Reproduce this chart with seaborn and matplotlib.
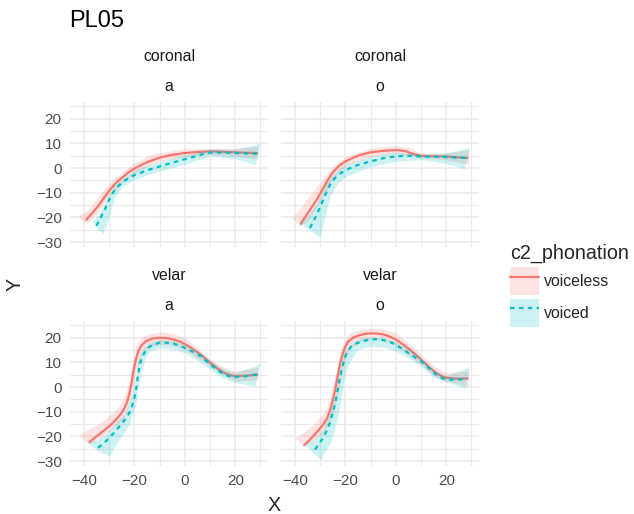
import matplotlib
matplotlib.use("Agg")
import matplotlib.pyplot as plt
import seaborn as sns
from matplotlib.patches import Patch
from matplotlib.lines import Line2D

# ---------------- data ----------------
series_names = ["voiceless", "voiced"]
legend_title = "c2_phonation"
row_labels = ["coronal", "velar"]
col_labels = ["a", "o"]
x_ticks = [-40, -20, 0, 20]
y_ticks = [-30, -20, -10, 0, 10, 20]
title_text = "PL05"

# coronal / a
cor_a_vl_x = [-39.1, -36.8, -34.5, -32.2, -29.9, -27.6, -25.3, -22.6, -19.9, -16.5, -13.4, -9.9, -5, 0, 5, 10, 15.5, 20, 24, 28.7]
cor_a_vl_y = [-20.9, -18.3, -15.5, -12.2, -9.0, -6.3, -4.2, -1.9, -0.1, 1.7, 3.0, 4.3, 5.4, 6.1, 6.5, 6.8, 6.6, 6.4, 6.2, 6.1]
cor_a_vl_rx = [-42, -39, -35, -30, -25, -20, -15, -10, 0, 10, 20, 29]
cor_a_vl_lo = [-20.0, -22.6, -18.5, -11.3, -6.2, -2.0, 0.8, 2.8, 4.6, 5.6, 4.8, 3.5]
cor_a_vl_hi = [-19.3, -17.4, -12.4, -6.0, -1.6, 2.2, 4.8, 6.3, 7.8, 8.0, 8.0, 8.8]
cor_a_vd_x = [-35.1, -33.5, -31.8, -30.5, -29.2, -27.3, -25.3, -22.6, -19.9, -15, -9.9, -5, 0, 5, 7.5, 10, 15, 20, 28.7]
cor_a_vd_y = [-23.4, -20.2, -16.9, -13.8, -11.0, -8.2, -6.2, -4.2, -2.8, -0.9, 0.7, 2.2, 3.6, 5.0, 5.8, 6.3, 6.3, 6.1, 5.8]
cor_a_vd_rx = [-36.5, -34.5, -32.5, -30, -28, -25, -20, -15, -10, 0, 10, 20, 28, 29.7]
cor_a_vd_lo = [-22.0, -24.8, -26.6, -19.6, -12.0, -7.6, -4.7, -2.8, -1.2, 1.6, 5.0, 3.8, 1.6, 9.6]
cor_a_vd_hi = [-21.5, -19.0, -15.5, -11.0, -7.0, -4.6, -0.8, 1.0, 2.6, 5.4, 7.6, 7.8, 9.4, 10.1]

# coronal / o
cor_o_vl_x = [-37.8, -35.9, -34.1, -31.4, -28.8, -26.8, -24.9, -22.5, -20, -17, -14.3, -10, -5, 0, 2, 4.1, 6, 8, 10, 15, 20, 24, 28.4]
cor_o_vl_y = [-22.6, -19.7, -16.9, -12.8, -8.1, -4.4, -1.6, 1.0, 2.7, 4.2, 5.3, 6.4, 7.0, 7.3, 7.2, 6.8, 6.0, 5.4, 5.0, 4.8, 4.7, 4.4, 4.1]
cor_o_vl_rx = [-41, -38, -35, -30, -25, -20, -10, 0, 5, 10, 20, 29]
cor_o_vl_lo = [-20.2, -23.2, -21.5, -13.5, -4.5, 1.0, 4.6, 6.0, 5.2, 4.0, 3.4, 1.5]
cor_o_vl_hi = [-19.6, -16.5, -12.0, -5.8, 0.8, 4.7, 8.1, 9.1, 8.3, 6.0, 6.0, 7.5]
cor_o_vd_x = [-34.1, -32.7, -31.4, -30.1, -28.8, -27.5, -26.2, -24.5, -22.9, -20, -15, -10, -5, 0, 5, 10, 20, 28.4]
cor_o_vd_y = [-24.3, -21.5, -18.9, -15.8, -12.8, -9.6, -6.8, -4.4, -2.8, -0.8, 1.3, 2.7, 4.0, 4.8, 5.0, 4.7, 4.5, 4.1]
cor_o_vd_rx = [-38, -35, -32.5, -30.1, -28, -26, -23, -20, -10, 0, 10, 20, 27.1, 29.1]
cor_o_vd_lo = [-22.3, -24.5, -26.5, -28.0, -19.0, -11.0, -6.0, -3.4, 0.7, 2.7, 3.4, 2.0, -0.3, 7.9]
cor_o_vd_hi = [-21.8, -19.5, -15.5, -12.0, -6.8, -3.8, -0.5, 1.4, 4.7, 6.4, 5.6, 6.2, 7.8, 8.4]

# velar / a
vel_a_vl_x = [-37.8, -33.2, -29.9, -26.6, -24.5, -23.2, -22.2, -21.3, -20.4, -19.5, -18.5, -17.2, -15.5, -12.8, -9.9, -6, -2, 2, 6.3, 10, 13, 15.5, 18, 20, 24, 28.7]
vel_a_vl_y = [-22.2, -18.5, -15.8, -12.4, -9.6, -6.8, -3.5, 1.0, 6.5, 11.0, 14.5, 16.9, 18.6, 19.7, 20.0, 19.7, 18.5, 16.3, 13.2, 9.9, 7.5, 5.8, 4.8, 4.5, 4.6, 5.1]
vel_a_vl_rx = [-41.7, -38, -33, -30, -26.6, -24.5, -23.3, -22, -20.7, -19.3, -17.4, -14.7, -9.9, -5, 0, 5, 10, 16.8, 20, 29]
vel_a_vl_lo = [-19.8, -23.2, -20.0, -17.8, -15.0, -12.6, -10.5, -6.4, -1.0, 6.5, 12.5, 15.9, 17.3, 17.0, 15.3, 11.8, 8.5, 4.0, 2.4, 3.0]
vel_a_vl_hi = [-19.2, -17.0, -14.2, -11.5, -8.4, -5.0, -1.6, 2.5, 10.5, 16.5, 19.8, 21.5, 22.4, 21.8, 20.0, 15.8, 11.2, 7.2, 6.5, 8.0]
vel_a_vd_x = [-34.5, -32, -29.9, -27.5, -25.3, -23.5, -22, -21, -20, -19.3, -18.7, -18, -17.2, -16, -14.7, -12.5, -9.9, -7, -4.2, 0, 3, 6.3, 10, 13, 15.5, 18, 20, 24, 28.7]
vel_a_vd_y = [-24.6, -22.6, -20.5, -17.8, -15.1, -12.8, -10.4, -7.8, -4.3, -0.5, 4.0, 8.5, 11.5, 14.0, 15.9, 17.3, 18.0, 18.0, 17.6, 15.9, 14.4, 12.6, 9.2, 6.8, 5.1, 4.3, 4.1, 4.4, 5.1]
vel_a_vd_rx = [-38.4, -35, -32, -29.9, -26.6, -23.9, -22, -20.7, -19.3, -18.7, -17.4, -16, -14.7, -12.5, -9.9, -5, 0, 5, 10, 15, 20, 27.8, 29.7]
vel_a_vd_lo = [-22.6, -25.5, -27.0, -28.0, -21.9, -18.0, -15.1, -10.5, -6.0, -1.0, 6.0, 11.0, 13.9, 15.2, 15.9, 15.3, 13.9, 10.8, 7.2, 3.8, 1.8, 0.4, 9.4]
vel_a_vd_hi = [-22.1, -21.5, -19.5, -17.5, -13.5, -11.0, -6.0, -1.6, 5.0, 11.2, 14.5, 16.2, 17.3, 18.5, 19.3, 18.8, 17.3, 14.3, 10.8, 7.5, 5.8, 8.5, 9.9]

# velar / o
vel_o_vl_x = [-36.4, -34.5, -32.8, -30.8, -28.8, -27.4, -26.2, -25.2, -24.2, -23.2, -22.2, -21.2, -20.3, -19, -17, -14.5, -12, -10, -7.5, -5.1, -2.5, 0, 2.7, 5.4, 7.7, 10, 13, 15.9, 18, 20, 24, 28.4]
vel_o_vl_y = [-23.5, -21.7, -19.9, -17.6, -15.1, -12.8, -9.7, -6.0, -1.6, 3.9, 9.2, 13.0, 15.9, 18.4, 20.0, 21.0, 21.6, 21.8, 21.7, 21.4, 20.5, 19.3, 17.4, 15.3, 13.3, 11.2, 8.3, 5.8, 4.5, 3.8, 3.4, 3.5]
vel_o_vl_rx = [-40, -36, -32.8, -28.8, -27.5, -26.2, -24.9, -23.5, -22.2, -20.9, -19.6, -18.3, -14, -10, -5, 0, 5, 10, 15, 20, 29]
vel_o_vl_lo = [-21.0, -23.9, -21.5, -18.5, -16.5, -14.0, -10.4, -4.0, 2.4, 9.0, 13.2, 15.5, 18.5, 19.7, 19.2, 16.6, 13.0, 9.2, 4.5, 2.4, 0.5]
vel_o_vl_hi = [-20.5, -18.0, -15.1, -10.5, -8.4, -4.5, 1.1, 8.0, 14.6, 17.8, 20.0, 22.0, 23.4, 23.9, 23.5, 22.0, 18.0, 13.2, 8.5, 5.8, 6.5]
vel_o_vd_x = [-32.1, -30.5, -28.8, -27.5, -26.2, -25.2, -24.2, -23.2, -22.2, -21.2, -20.3, -19, -17.6, -15.5, -13, -10, -7.5, -5.1, -2.5, 0, 2.7, 5.4, 7.7, 10, 13, 15.9, 18, 20, 24, 28.4]
vel_o_vd_y = [-25.3, -23.0, -20.5, -17.8, -14.5, -11.0, -7.0, -1.8, 3.8, 8.3, 11.9, 14.8, 16.6, 17.8, 18.7, 19.3, 19.4, 19.1, 18.4, 17.2, 15.4, 13.5, 12.0, 10.5, 7.8, 5.1, 3.8, 3.0, 3.0, 3.4]
vel_o_vd_rx = [-36, -33, -31, -29.5, -28.8, -26.2, -24.9, -23.6, -22.2, -21.6, -20.6, -19.6, -15.7, -13, -10, -5, 0, 5, 10, 15, 20, 27.5, 29.1]
vel_o_vd_lo = [-23.4, -26.5, -28.3, -29.3, -27.0, -23.2, -19.0, -14.5, -7.0, -3.0, 3.0, 7.8, 14.6, 16.0, 16.6, 16.3, 14.6, 11.8, 8.5, 4.0, 2.2, -0.5, 7.6]
vel_o_vd_hi = [-22.9, -21.5, -19.5, -17.8, -17.0, -10.5, -6.4, -1.0, 7.8, 10.0, 13.5, 15.9, 19.0, 20.2, 20.3, 19.9, 18.2, 15.5, 11.9, 7.0, 4.5, 7.5, 8.1]

# ---------------- styling ----------------
RED = "#F8766D"
CYAN = "#00BFC4"
GRID = "#EBEBEB"

sns.set_theme(style="white")
plt.rcParams['font.family'] = ['Liberation Sans', 'DejaVu Sans']
plt.rcParams['axes.unicode_minus'] = True

W, H = 634, 514
fig = plt.figure(figsize=(W / 100, H / 100), dpi=100)
fig.patch.set_facecolor("white")


def ax_at(l, t, r, b):
    return fig.add_axes([l / W, 1 - b / H, (r - l) / W, (b - t) / H])


panels = [
    (0, 0, (cor_a_vl_x, cor_a_vl_y, cor_a_vl_rx, cor_a_vl_lo, cor_a_vl_hi),
     (cor_a_vd_x, cor_a_vd_y, cor_a_vd_rx, cor_a_vd_lo, cor_a_vd_hi)),
    (0, 1, (cor_o_vl_x, cor_o_vl_y, cor_o_vl_rx, cor_o_vl_lo, cor_o_vl_hi),
     (cor_o_vd_x, cor_o_vd_y, cor_o_vd_rx, cor_o_vd_lo, cor_o_vd_hi)),
    (1, 0, (vel_a_vl_x, vel_a_vl_y, vel_a_vl_rx, vel_a_vl_lo, vel_a_vl_hi),
     (vel_a_vd_x, vel_a_vd_y, vel_a_vd_rx, vel_a_vd_lo, vel_a_vd_hi)),
    (1, 1, (vel_o_vl_x, vel_o_vl_y, vel_o_vl_rx, vel_o_vl_lo, vel_o_vl_hi),
     (vel_o_vd_x, vel_o_vd_y, vel_o_vd_rx, vel_o_vd_lo, vel_o_vd_hi)),
]

col_lr = [(70, 268), (281, 479)]
row_tb = [(102, 247), (321, 466)]
strip_base1 = [61, 280]
strip_base2 = [91, 310]

for r, c, vl, vd in panels:
    l, rr = col_lr[c]
    t, b = row_tb[r]
    ax = ax_at(l, t, rr, b)
    ax.set_facecolor("white")
    for sp in ax.spines.values():
        sp.set_visible(False)
    ax.set_xlim(-45.6, 33.0)
    ax.set_ylim(-32.0, 26.8)
    ax.set_xticks(x_ticks)
    ax.set_xticks([-30, -10, 10, 30], minor=True)
    ax.set_yticks(y_ticks)
    ax.set_yticks([-25, -15, -5, 5, 15, 25], minor=True)
    ax.grid(True, which="major", color=GRID, linewidth=1.1)
    ax.grid(True, which="minor", color=GRID, linewidth=0.8)
    ax.set_axisbelow(True)
    ax.tick_params(which="both", length=0)
    ax.tick_params(axis="x", pad=5.5, labelsize=11, labelcolor="#4D4D4D")
    ax.tick_params(axis="y", pad=6, labelsize=11, labelcolor="#4D4D4D")
    if r == 0:
        ax.tick_params(axis="x", labelbottom=False)
    if c == 1:
        ax.tick_params(axis="y", labelleft=False)

    z = 2
    for (xs, ys, rx, lo, hi), colr, dashed in ((vl, RED, False), (vd, CYAN, True)):
        ax.fill_between(rx, lo, hi, color=colr, alpha=0.2, linewidth=0, zorder=z)
        sns.lineplot(x=xs, y=ys, color=colr, linewidth=1.6, ax=ax, errorbar=None,
                     zorder=z + 1)
        line = ax.lines[-1]
        line.set_solid_joinstyle("round")
        if dashed:
            line.set_dashes((2.0, 2.0))
        z += 2
    ax.set_xlabel("")
    ax.set_ylabel("")

    cx = (l + rr) / 2 / W
    fig.text(cx, 1 - strip_base1[r] / H, row_labels[r], ha="center", va="baseline",
             fontsize=11.4, color="#1A1A1A")
    fig.text(cx, 1 - strip_base2[r] / H, col_labels[c], ha="center", va="baseline",
             fontsize=11.4, color="#1A1A1A")

fig.text(69 / W, 1 - 27 / H, title_text, ha="left", va="baseline", fontsize=17, color="black")
fig.text(15 / W, 1 - 284 / H, "Y", rotation=90, ha="center", va="center", fontsize=14.2)
fig.text(274.5 / W, 1 - 511 / H, "X", ha="center", va="baseline", fontsize=14.2)

handles = [
    (Patch(facecolor=RED, alpha=0.2, edgecolor="none"), Line2D([], [], color=RED, linewidth=1.6)),
    (Patch(facecolor=CYAN, alpha=0.2, edgecolor="none"),
     Line2D([], [], color=CYAN, linewidth=1.6, dashes=(2.0, 2.0))),
]
leg = fig.legend(handles, series_names, title=legend_title, loc="upper left",
                 bbox_to_anchor=(510 / W, 1 - 244 / H), frameon=False,
                 fontsize=11.4, title_fontsize=14.2, handlelength=1.8, handleheight=2.35,
                 labelspacing=0.24, handletextpad=0.35, borderpad=0, borderaxespad=0,
                 alignment="left")

fig.savefig("out.png", dpi=100, facecolor="white")
